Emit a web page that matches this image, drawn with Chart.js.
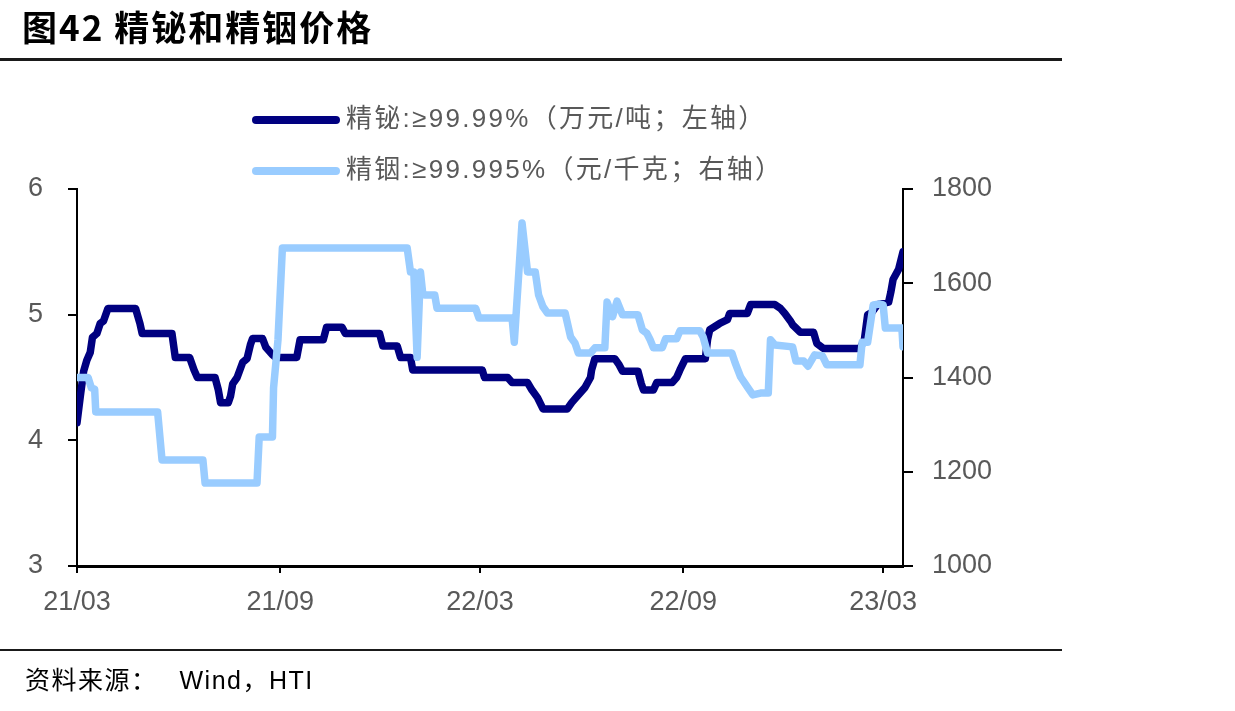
<!DOCTYPE html>
<html>
<head>
<meta charset="utf-8">
<script src="https://cdn.jsdelivr.net/npm/chart.js@4.4.1/dist/chart.umd.min.js"></script>
<style>
  html, body { margin:0; padding:0; background:#fff; width:1235px; height:711px; overflow:hidden; }
  #wrap { position:relative; width:1235px; height:711px; }
  canvas { position:absolute; left:0; top:0; }
  .t { position:absolute; white-space:nowrap; }
  #title { left:22px; top:8px; font-family:"Noto Sans CJK SC", sans-serif; font-weight:700; font-size:35px; line-height:35px; letter-spacing:2px; color:#000; }
  .rule { position:absolute; left:0; width:1062px; background:#1a1a1a; }
  .leg { font-family:"Liberation Sans", Arial, "Noto Sans CJK SC", sans-serif; font-size:26px; line-height:26px; letter-spacing:2.3px; color:#595959; }
  .sw { position:absolute; left:252px; width:88px; height:8px; border-radius:4px; }
  .src { font-family:"Liberation Sans", Arial, "Noto Sans CJK SC", sans-serif; font-size:25px; line-height:25px; color:#000; letter-spacing:1.5px; }
</style>
</head>
<body>
<div id="wrap">
  <canvas id="c" width="1235" height="711"></canvas>
  <div id="title" class="t">图42 精铋和精铟价格</div>
  <div class="rule" style="top:58px;height:2.5px;"></div>
  <div class="sw" style="top:116px;background:#000080;"></div>
  <div class="t leg" style="left:346px;top:105px;">精铋:≥99.99%（万元/吨；左轴）</div>
  <div class="sw" style="top:167px;background:#99CCFF;"></div>
  <div class="t leg" style="left:346px;top:156px;">精铟:≥99.995%（元/千克；右轴）</div>
  <div class="rule" style="top:649px;height:1.5px;"></div>
  <div class="t src" style="left:25px;top:668px;">资料来源：<span style="margin-left:22px">Wind，HTI</span></div>
</div>
<script>
// x values are days since 2021-03-01
const tickDays = [0, 184, 365, 549, 730];
const tickLabels = ['21/03', '21/09', '22/03', '22/09', '23/03'];

// 精铋 ≥99.99% (万元/吨, left axis)
const biDays = [0,3,6,9,12,14,18,21,24,28,53,57,59,86,89,102,106,109,125,128,130,137,139,141,145,150,154,157,159,168,171,177,180,199,202,223,226,240,243,274,277,290,293,302,304,367,369,390,394,408,412,417,422,444,448,453,460,465,466,469,487,491,494,508,511,513,522,525,539,543,546,551,569,571,573,582,589,591,607,610,632,637,641,646,648,655,667,670,676,709,713,716,720,725,735,737,739,744,748];
const biValues = [4.14,4.35,4.55,4.64,4.70,4.82,4.85,4.93,4.95,5.05,5.05,4.93,4.85,4.85,4.66,4.66,4.56,4.50,4.50,4.40,4.30,4.30,4.35,4.45,4.50,4.62,4.65,4.76,4.81,4.81,4.74,4.68,4.66,4.66,4.80,4.80,4.90,4.90,4.85,4.85,4.75,4.75,4.66,4.66,4.56,4.56,4.50,4.50,4.46,4.46,4.40,4.34,4.25,4.25,4.30,4.35,4.42,4.50,4.56,4.65,4.65,4.60,4.55,4.55,4.45,4.40,4.40,4.46,4.46,4.50,4.56,4.65,4.65,4.80,4.88,4.93,4.96,5.01,5.01,5.08,5.08,5.05,5.01,4.95,4.92,4.86,4.86,4.77,4.73,4.73,4.80,5.00,5.02,5.08,5.10,5.18,5.28,5.36,5.50];

// 精铟 ≥99.995% (元/千克, right axis)
const inDays = [0,10,13,16,17,73,77,114,116,163,165,177,178,182,186,299,302,305,308,311,313,315,324,326,361,364,394,396,403,408,415,418,422,426,442,447,451,454,465,469,478,480,485,489,494,508,512,516,519,522,530,533,543,546,564,567,571,593,596,601,607,612,619,626,628,632,648,651,658,662,668,675,679,709,711,716,721,727,730,732,747,748];
const inValues = [1400,1400,1378,1375,1327,1327,1225,1225,1176,1176,1274,1274,1378,1480,1675,1675,1624,1624,1443,1624,1580,1575,1575,1547,1547,1526,1526,1475,1728,1624,1624,1575,1550,1537,1537,1486,1473,1452,1452,1463,1463,1560,1529,1562,1533,1533,1501,1494,1480,1463,1463,1482,1482,1499,1499,1486,1452,1452,1431,1401,1380,1363,1367,1367,1480,1469,1465,1435,1435,1424,1448,1446,1427,1427,1475,1475,1554,1556,1554,1505,1505,1465];

const seriesNames = ['精铋:≥99.99%（万元/吨；左轴）', '精铟:≥99.995%（元/千克；右轴）'];

const tickFont = { family: '"Liberation Sans", Arial, sans-serif', size: 27 };
const tickColor = '#595959';

new Chart(document.getElementById('c'), {
  type: 'line',
  data: {
    datasets: [
      {
        label: seriesNames[0],
        data: biDays.map((d, i) => ({ x: d, y: biValues[i] })),
        yAxisID: 'yL',
        borderColor: '#000080',
        backgroundColor: '#000080',
        borderWidth: 7.5,
        pointRadius: 0,
        tension: 0,
        borderJoinStyle: 'round',
        borderCapStyle: 'round',
        order: 2
      },
      {
        label: seriesNames[1],
        data: inDays.map((d, i) => ({ x: d, y: inValues[i] })),
        yAxisID: 'yR',
        borderColor: '#99CCFF',
        backgroundColor: '#99CCFF',
        borderWidth: 7.5,
        pointRadius: 0,
        tension: 0,
        borderJoinStyle: 'round',
        borderCapStyle: 'round',
        order: 1
      }
    ]
  },
  options: {
    responsive: false,
    animation: false,
    events: [],
    layout: { padding: { top: 189, bottom: 0, left: 0, right: 0 } },
    plugins: { legend: { display: false }, tooltip: { enabled: false }, title: { display: false } },
    scales: {
      x: {
        type: 'linear',
        min: 0,
        max: 748,
        afterBuildTicks: s => { s.ticks = tickDays.map(v => ({ value: v })); },
        afterFit: s => { s.height = 145; },
        ticks: {
          autoSkip: false,
          maxRotation: 0,
          padding: 13,
          color: tickColor,
          font: tickFont,
          callback: (v, i) => tickLabels[i]
        },
        grid: { display: true, drawOnChartArea: false, drawTicks: true, tickLength: 7, color: '#000', lineWidth: 2 },
        border: { display: true, color: '#000', width: 3 }
      },
      yL: {
        type: 'linear',
        position: 'left',
        min: 3,
        max: 6,
        afterFit: s => { s.width = 77; },
        ticks: { stepSize: 1, padding: 25, color: tickColor, font: tickFont, callback: v => String(v) },
        grid: { display: true, drawOnChartArea: false, tickLength: 9, color: '#000', lineWidth: 2 },
        border: { display: true, color: '#000', width: 2 }
      },
      yR: {
        type: 'linear',
        position: 'right',
        min: 1000,
        max: 1800,
        afterFit: s => { s.width = 332; },
        ticks: { stepSize: 200, padding: 19, color: tickColor, font: tickFont, callback: v => String(v) },
        grid: { display: true, drawOnChartArea: false, tickLength: 10, color: '#000', lineWidth: 2 },
        border: { display: true, color: '#000', width: 2 }
      }
    }
  }
});
</script>
</body>
</html>
